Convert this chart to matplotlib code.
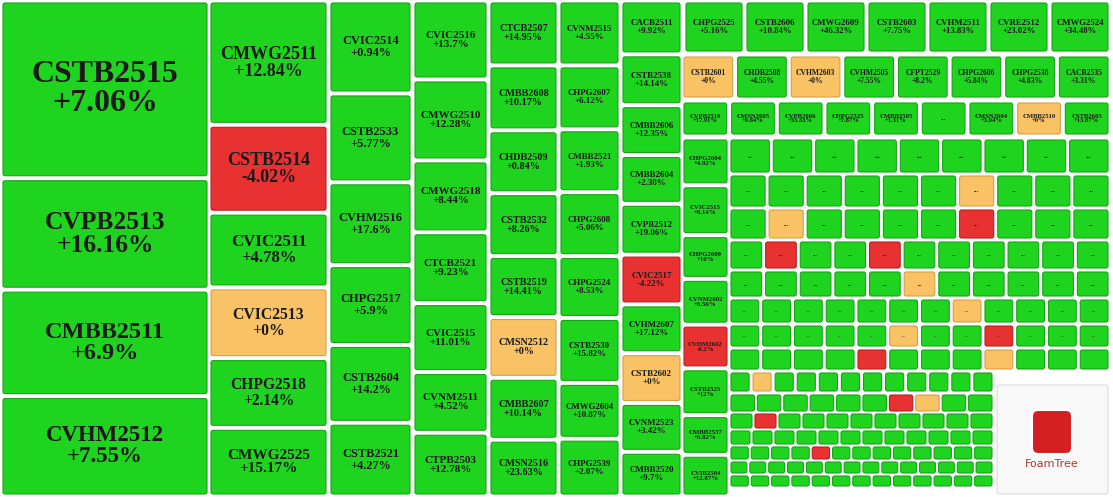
import matplotlib.pyplot as plt
from matplotlib.patches import FancyBboxPatch

plt.rcParams['font.family'] = ['Liberation Serif', 'DejaVu Serif']

# ---- data: big columns (label, change %) ----
col_a = ['CSTB2515', 'CVPB2513', 'CMBB2511', 'CVHM2512']
val_a = [7.06, 16.16, 6.9, 7.55]
col_b = ['CMWG2511', 'CSTB2514', 'CVIC2511', 'CVIC2513', 'CHPG2518', 'CMWG2525']
val_b = [12.84, -4.02, 4.78, 0, 2.14, 15.17]
col_c = ['CVIC2514', 'CSTB2533', 'CVHM2516', 'CHPG2517', 'CSTB2604', 'CSTB2521']
val_c = [0.94, 5.77, 17.6, 5.9, 14.2, 4.27]
col_d = ['CVIC2516', 'CMWG2510', 'CMWG2518', 'CTCB2521', 'CVIC2515', 'CVNM2511', 'CTPB2503']
val_d = [13.7, 12.28, 8.44, 9.23, 11.01, 4.52, 12.78]
col_e = ['CTCB2507', 'CMBB2608', 'CHDB2509', 'CSTB2532', 'CSTB2519', 'CMSN2512', 'CMBB2607', 'CMSN2516']
val_e = [14.95, 10.17, 0.84, 8.26, 14.41, 0, 10.14, 23.63]
col_f = ['CVNM2515', 'CHPG2607', 'CMBB2521', 'CHPG2608', 'CHPG2524', 'CSTB2530', 'CMWG2604', 'CHPG2539']
val_f = [4.55, 6.12, 1.93, 5.06, 8.53, 15.82, 10.87, 2.07]
col_g = ['CACB2511', 'CSTB2538', 'CMBB2606', 'CMBB2604', 'CVPB2512', 'CVIC2517', 'CVHM2607',
         'CSTB2602', 'CVNM2523', 'CMBB2520']
val_g = [9.92, 14.14, 12.35, 2.38, 19.06, -4.22, 17.12, 0, 3.42, 9.7]
col_h = ['CHPG2604', 'CVIC2515', 'CHPG2609', 'CVNM2602', 'CVHM2602', 'CSTB2525', 'CMBB2537', 'CVIB2504']
val_h = [4.92, 6.14, 10, 6.56, -0.2, 12, 0.82, 12.87]
row_1 = ['CHPG2525', 'CSTB2606', 'CMWG2609', 'CSTB2603', 'CVHM2511', 'CVRE2512', 'CMWG2524']
val_r1 = [5.16, 10.84, 46.32, 7.75, 13.83, 23.02, 34.48]
row_2 = ['CSTB2601', 'CHDB2508', 'CVHM2603', 'CVHM2505', 'CFPT2529', 'CHPG2606', 'CHPG2538', 'CACB2535']
val_r2 = [0, 4.55, 0, 7.55, 8.2, 5.84, 4.83, 3.31]
row_3 = ['CVPB2516', 'CMSN2605', 'CVPB2606', 'CHPG2525', 'CMBB2505', '...', 'CMSN2604', 'CMBB2510', 'CSTB2605']
val_r3 = [17.91, 9.84, 33.33, 7.87, 1.31, 1, 3.04, 0, 13.87]

# small "..." tiles: g=up, o=flat, r=down, one string per row
small_rows = ['ggggggggg', 'ggggggoggg', 'goggggrggg', 'grggrgggggg', 'gggggoggggg',
              'gggggggogggg', 'gggggoggrggg', 'ggggrgggoggg', 'gogggggggggg',
              'ggggggrogg', 'grggggggggg', 'gggggggggggg', 'ggggrgggggggg',
              'gggggggggggggg', 'ggggggggggggg']

# ---- layout (pixel weights) ----
w_a = [172, 106, 101, 95]
w_b = [118, 82, 69, 65, 64, 63]
w_c = [87, 83, 77, 74, 72, 68]
w_d = [73, 75, 66, 65, 63, 55, 58]
w_e = [59, 59, 57, 57, 55, 55, 56, 51]
w_f = [59, 58, 57, 58, 56, 59, 50, 52]
w_g = [48, 45, 44, 43, 45, 44, 43, 44, 43, 39]
w_h = [42, 44, 38, 40, 38, 41, 34, 36]
small_h = [32, 30, 28, 26, 24, 22, 20, 19, 18, 16, 14, 13, 12, 11, 10]

GREEN, ORANGE, RED = '#1fd41f', '#f9c264', '#e83232'
EDGE = {GREEN: '#17a417', ORANGE: '#d8a048', RED: '#b82020'}
GAP = 5

fig = plt.figure(figsize=(11.13, 4.97), dpi=100)
ax = fig.add_axes([0, 0, 1, 1])
ax.set_xlim(0, 1113)
ax.set_ylim(497, 0)
ax.axis('off')


def colour(v):
    return GREEN if v > 0 else (ORANGE if v == 0 else RED)


def tile(x, y, w, h, c, label=None, val=None):
    ax.add_patch(FancyBboxPatch((x, y), w, h, boxstyle='round,pad=0,rounding_size=2',
                                fc=c, ec=EDGE[c], lw=0.8))
    if label is None:
        return
    if label == '...':
        text = '...'
    else:
        text = label + '\n' + ('+%g%%' % val if val >= 0 else '%g%%' % val)
    n = max(len(label), 4)
    em = min(w * 0.8 / (n * 0.64), h * 0.24)
    ax.text(x + w / 2, y + h / 2, text, ha='center', va='center', fontweight='bold',
            fontsize=em / 1.39, linespacing=1.0, color='#1a1a1a')


def column(x0, x1, y0, y1, labels, vals, weights):
    total = sum(weights)
    avail = (y1 - y0) - GAP * (len(weights) - 1)
    y = y0
    for lab, v, wt in zip(labels, vals, weights):
        h = avail * wt / total
        tile(x0, y, x1 - x0, h, colour(v), lab, v)
        y += h + GAP


def row(x0, x1, y0, y1, labels, vals):
    n = len(labels)
    w = ((x1 - x0) - GAP * (n - 1)) / n
    for i, (lab, v) in enumerate(zip(labels, vals)):
        tile(x0 + i * (w + GAP), y0, w, y1 - y0, colour(v), lab, v)


column(3, 207, 3, 494, col_a, val_a, w_a)
column(211, 326, 3, 494, col_b, val_b, w_b)
column(331, 410, 3, 494, col_c, val_c, w_c)
column(415, 486, 3, 494, col_d, val_d, w_d)
column(491, 556, 3, 494, col_e, val_e, w_e)
column(561, 618, 3, 494, col_f, val_f, w_f)
column(623, 680, 3, 494, col_g, val_g, w_g)
row(686, 1108, 3, 51, row_1, val_r1)
row(684, 1108, 57, 97, row_2, val_r2)
row(684, 1108, 103, 134, row_3, val_r3)
column(684, 727, 140, 494, col_h, val_h, w_h)

# small tiles
cmap = {'g': GREEN, 'o': ORANGE, 'r': RED}
y = 140
for codes, h in zip(small_rows, small_h):
    x1 = 1108 if y + h < 382 else 992
    n = len(codes)
    gap = 4 if h > 16 else 3
    w = ((x1 - 731) - gap * (n - 1)) / n
    for i, c in enumerate(codes):
        tile(731 + i * (w + gap), y, w, h, cmap[c], '...' if h >= 20 else None)
    y += h + gap
    if y > 494:
        break

# FoamTree logo box
ax.add_patch(FancyBboxPatch((997, 385), 111, 109, boxstyle='round,pad=0,rounding_size=2',
                            fc='#f8f8f8', ec='#dddddd', lw=0.8))
ax.add_patch(FancyBboxPatch((1032, 410), 40, 44, boxstyle='round,pad=0,rounding_size=6',
                            fc='#d42020', ec='#ffffff', lw=1.5))
ax.text(1052, 464, 'FoamTree', ha='center', va='center', fontsize=8, color='#c03030',
        family=['DejaVu Sans'])

fig.savefig('out.png', dpi=100)
